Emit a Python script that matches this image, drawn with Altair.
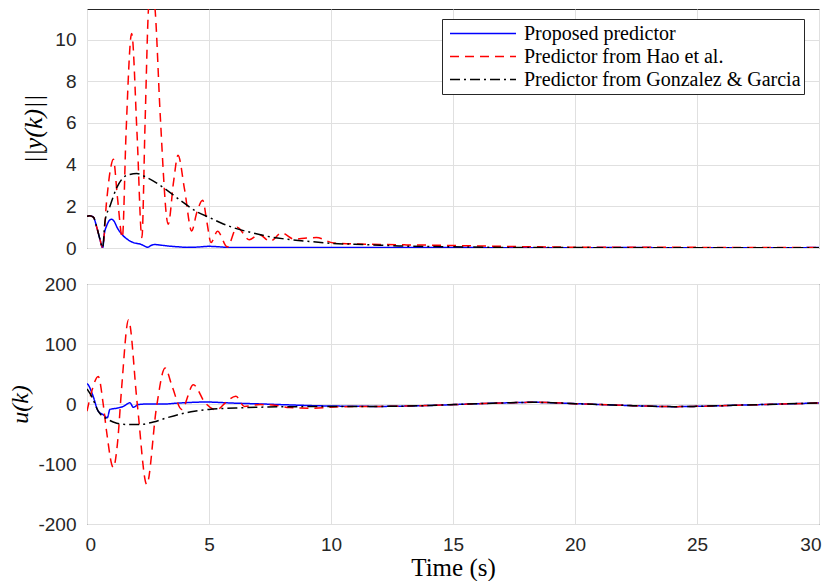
import altair as alt
import pandas as pd

SERIES = ["Proposed predictor", "Predictor from Hao et al.", "Predictor from Gonzalez & Garcia"]
COLORS = ["#0000ff", "#ff0000", "#000000"]
DASHES = [[1, 0], [9, 6], [10, 4, 2, 4]]

X_TICKS = [0, 5, 10, 15, 20, 25, 30]
Y_TOP_TICKS = [0, 2, 4, 6, 8, 10]
Y_BOT_TICKS = [-200, -100, 0, 100, 200]

# ---- top panel: ||y(k)|| ----
t_blue_y = [0, 0.1, 0.26, 0.4, 0.53, 0.64, 0.72, 0.8, 0.9, 1.0, 1.1, 1.25, 1.49, 1.7, 1.9, 2.2, 2.5,
            2.62, 2.75, 3.0, 3.3, 3.7, 4.1, 4.6, 5.0, 5.5, 5.9, 7, 8, 9, 10, 12, 15, 18, 22, 26, 30]
y_blue = [1.52, 1.55, 1.48, 1.0, 0.42, 0.0, 0.75, 1.05, 1.3, 1.38, 1.3, 0.95, 0.58, 0.38, 0.26, 0.18, 0.04,
          0.12, 0.17, 0.14, 0.1, 0.06, 0.03, 0.05, 0.08, 0.05, 0.02, 0.03, 0.02, 0.03, 0.03, 0.02, 0.02, 0.01, 0.02, 0.01, 0.02]

t_hao_y = [0, 0.1, 0.26, 0.4, 0.53, 0.64, 0.8, 0.95, 1.08, 1.25, 1.45, 1.6, 1.83, 2.05, 2.25, 2.38, 2.52,
           2.65, 2.8, 3.0, 3.33, 3.55, 3.73, 4.0, 4.29, 4.5, 4.74, 4.92, 5.08, 5.35, 5.75, 6.15, 6.65,
           7.05, 7.5, 7.98, 8.5, 9.0, 9.4, 10.1, 10.8, 12, 13, 14, 15, 17, 20, 25, 30]
y_hao = [1.52, 1.55, 1.48, 1.0, 0.42, 0.02, 2.2, 3.7, 4.26, 2.4, 0.5, 5.5, 10.3, 5.5, 0.5, 6.0, 11.5,
         12.8, 11.3, 6.4, 1.14, 3.2, 4.45, 2.8, 0.82, 1.7, 2.29, 1.2, 0.26, 0.8, 0.05, 1.0, 0.4,
         0.65, 0.32, 0.72, 0.42, 0.48, 0.5, 0.24, 0.2, 0.17, 0.15, 0.14, 0.12, 0.08, 0.04, 0.03, 0.02]

t_gg_y = [0, 0.1, 0.26, 0.4, 0.53, 0.64, 0.74, 0.94, 1.22, 1.49, 1.75, 2.04, 2.45, 3.13, 3.81, 4.5,
          5.04, 5.5, 6.04, 6.7, 7.4, 8.0, 8.78, 10.1, 11.5, 12.8, 14.9, 17, 20, 25, 30]
y_gg = [1.52, 1.55, 1.48, 1.0, 0.42, 0.02, 1.3, 2.0, 2.9, 3.38, 3.53, 3.57, 3.38, 2.9, 2.3, 1.74,
        1.45, 1.2, 0.96, 0.75, 0.56, 0.45, 0.35, 0.22, 0.16, 0.1, 0.06, 0.03, 0.02, 0.01, 0.01]

# ---- bottom panel: u(k) ----
t_blue_u = [0, 0.05, 0.25, 0.46, 0.67, 0.83, 0.94, 1.22, 1.49, 1.76, 1.9, 2.1, 2.45, 3.13, 3.8, 4.9,
            5.86, 7.2, 8.3, 9.3, 10.3, 12, 14, 16, 17, 18.3, 20, 22.4, 24.1, 25, 26.5, 28.5, 30]
u_blue = [34, 32, 13, -12, -18, -23, -9, -7, -4, 2, -5.5, -1, 0, 0, 1.7, 3.3,
          1.7, 0, -1.5, -2.8, -3.5, -4, -2.5, 0.5, 1.7, 2.8, 0.6, -2.8, -4.4, -3.9, -2.2, 0, 1.7]

t_hao_u = [0, 0.2, 0.46, 0.67, 0.8, 1.08, 1.25, 1.42, 1.7, 2.06, 2.45, 2.85, 3.2, 3.5, 3.88, 4.36,
           4.84, 5.3, 5.67, 6.1, 6.45, 7.1, 7.7, 8.3, 9.3, 10.3, 12, 14, 16, 17, 18.3, 20, 22.4,
           24.1, 25, 26.5, 28.5, 30]
u_hao = [-12, 22, 46, -2, -45, -106, -65, 27, 140, 0, -134, -5, 60, 28, -9, 32,
         2, -10, 2, 13, -4, -1, -2, -6, -7, -4.5, -4, -2.5, 0.5, 1.7, 2.8, 0.6, -2.8,
         -4.4, -3.9, -2.2, 0, 1.7]

t_gg_u = [0, 0.2, 0.46, 0.87, 1.22, 1.6, 2.17, 2.72, 3.27, 3.8, 4.4, 5.0, 5.6, 6.2, 7.4, 8.5, 10.2,
          12, 14, 16, 17, 18.3, 20, 22.4, 24.1, 25, 26.5, 28.5, 30]
u_gg = [25, 12, -12, -26, -32, -34, -34, -30, -23, -17, -12, -9, -7.5, -6.5, -5, -4.5, -4,
        -4, -2.5, 0.5, 1.7, 2.8, 0.6, -2.8, -4.4, -3.9, -2.2, 0, 1.7]


def build(parts):
    rows = []
    for name, ts, vs in parts:
        for t, v in zip(ts, vs):
            rows.append({"series": name, "t": t, "v": v})
    return pd.DataFrame(rows)


top_df = build([(SERIES[0], t_blue_y, y_blue), (SERIES[1], t_hao_y, y_hao), (SERIES[2], t_gg_y, y_gg)])
bot_df = build([(SERIES[0], t_blue_u, u_blue), (SERIES[1], t_hao_u, u_hao), (SERIES[2], t_gg_u, u_gg)])

x_scale = alt.Scale(domain=[0, 30], nice=False)
color_scale = alt.Scale(domain=SERIES, range=COLORS)
dash_scale = alt.Scale(domain=SERIES, range=DASHES)

legend = alt.Legend(
    orient="none", legendX=355, legendY=10, symbolType="stroke", symbolSize=4356,
    symbolStrokeWidth=1.5, clipHeight=23, rowPadding=0, padding=3, symbolOffset=4,
    labelOffset=7, labelFont="Liberation Serif", labelFontSize=20, labelColor="black",
    labelLimit=400, strokeColor="#262626", fillColor="white", cornerRadius=0,
)

title_common = dict(titleFont="Liberation Serif", titleFontWeight="normal", titleColor="black")

top = alt.Chart(top_df).mark_line(strokeWidth=1.5, interpolate="monotone", clip=True).encode(
    x=alt.X("t:Q", scale=x_scale,
            axis=alt.Axis(values=X_TICKS, labels=False, ticks=False, domain=False, grid=True,
                          title=None, minExtent=0, maxExtent=0, labelPadding=0)),
    y=alt.Y("v:Q", scale=alt.Scale(domain=[0, 11.47], nice=False),
            axis=alt.Axis(values=Y_TOP_TICKS, title="||y(k)||", titleFontStyle="italic",
                          titleFontSize=26, titlePadding=8, **title_common)),
    color=alt.Color("series:N", scale=color_scale, title=None, legend=legend),
    strokeDash=alt.StrokeDash("series:N", scale=dash_scale, title=None, legend=legend),
).properties(width=732, height=239)

bottom = alt.Chart(bot_df).mark_line(strokeWidth=1.5, interpolate="monotone", clip=True).encode(
    x=alt.X("t:Q", scale=x_scale,
            axis=alt.Axis(values=X_TICKS, title="Time (s)", titleFontStyle="normal", titleFontSize=25,
                          titlePadding=1, labelPadding=11, labelFlush=True, labelFlushOffset=2,
                          **title_common)),
    y=alt.Y("v:Q", scale=alt.Scale(domain=[-200, 200], nice=False),
            axis=alt.Axis(values=Y_BOT_TICKS, title="u(k)", titleFontStyle="italic", titleFontSize=24,
                          titlePadding=5,
                          labelExpr="datum.value < 0 ? '-' + format(-datum.value, 'd') : format(datum.value, 'd')",
                          **title_common)),
    color=alt.Color("series:N", scale=color_scale, legend=None),
    strokeDash=alt.StrokeDash("series:N", scale=dash_scale, legend=None),
).properties(width=732, height=240)

chart = alt.vconcat(top, bottom, spacing=15).resolve_legend(
    color="independent", strokeDash="independent"
).properties(
    padding={"left": 0, "top": 0, "right": 0, "bottom": 0}
).configure_view(
    stroke="#262626", strokeWidth=1
).configure_axis(
    labelFont="Liberation Sans", labelFontSize=19, labelColor="#262626",
    gridColor="#e0e0e0", gridWidth=1, domain=False, ticks=False, labelFlush=False,
).configure_axisY(
    labelPadding=11
)

chart.save("out.html", embed_options={"renderer": "svg", "actions": False})
